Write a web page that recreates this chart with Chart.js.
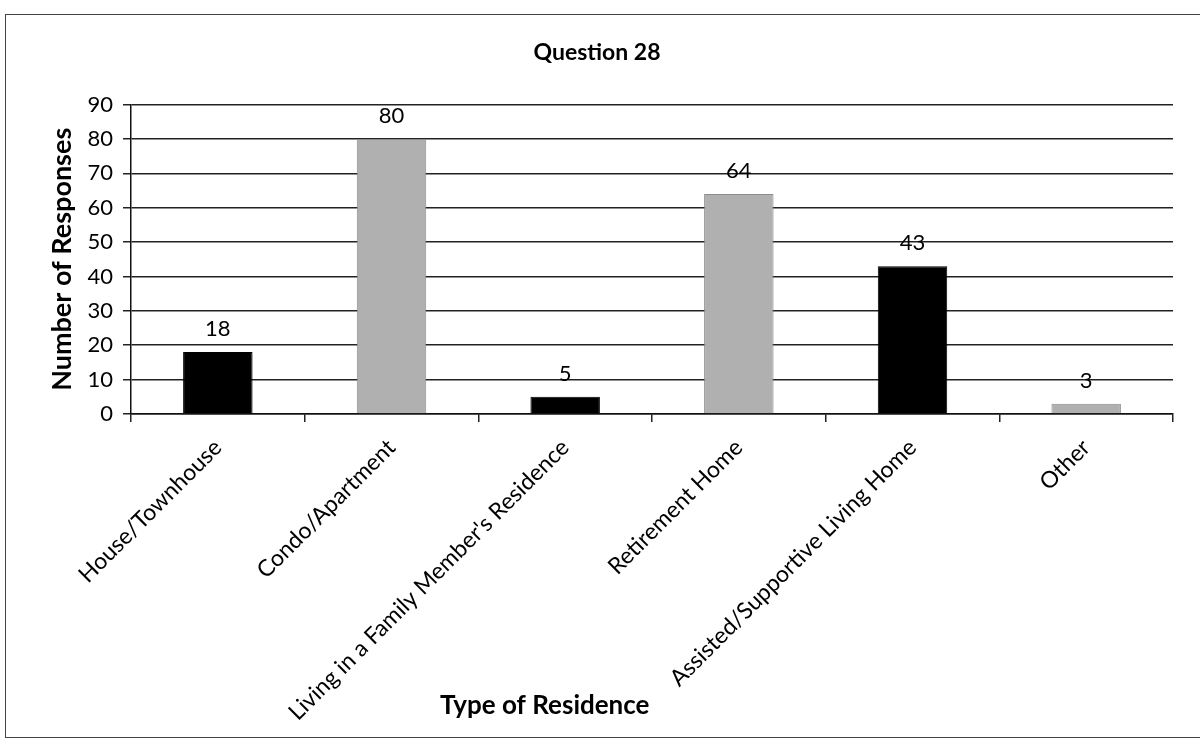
<!DOCTYPE html>
<html>
<head>
<meta charset="utf-8">
<script src="https://cdn.jsdelivr.net/npm/chart.js@4.4.1/dist/chart.umd.min.js"></script>
<style>
  html, body { margin: 0; padding: 0; background: #fff; overflow: hidden; }
  #wrap { position: relative; width: 1200px; height: 746px; }
  #frame { position: absolute; left: 5px; top: 14px; width: 1210px; height: 724px; border: 1.5px solid #444; box-sizing: border-box; }
  canvas { position: absolute; left: 0; top: 0; }
</style>
</head>
<body>
<div id="wrap">
  <div id="frame"></div>
  <canvas id="chart" width="1200" height="746"></canvas>
</div>
<script>
/* ---------- data ---------- */
const residenceTypes = [
  "House/Townhouse",
  "Condo/Apartment",
  "Living in a Family Member's Residence",
  "Retirement Home",
  "Assisted/Supportive Living Home",
  "Other"
];
const responseCounts = [18, 80, 5, 64, 43, 3];
const barColors = ["#000000", "#b0b0b0", "#000000", "#b0b0b0", "#000000", "#b0b0b0"];
const yTicks = [0, 10, 20, 30, 40, 50, 60, 70, 80, 90];

const FONT = "Lato, 'Liberation Sans', sans-serif";

/* value labels over each bar */
const valueLabels = {
  id: "valueLabels",
  afterDatasetsDraw(chart) {
    const ctx = chart.ctx;
    const meta = chart.getDatasetMeta(0);
    ctx.save();
    ctx.font = "22px " + FONT;
    ctx.fillStyle = "#000";
    ctx.textAlign = "center";
    ctx.textBaseline = "bottom";
    meta.data.forEach((bar, i) => {
      ctx.fillText(String(responseCounts[i]), bar.x, bar.y - 12);
    });
    ctx.restore();
  }
};

/* x axis title sits left of centre in the original */
const xAxisTitle = {
  id: "xAxisTitle",
  afterDraw(chart) {
    const ctx = chart.ctx;
    const area = chart.chartArea;
    ctx.save();
    ctx.font = "bold 26px " + FONT;
    ctx.fillStyle = "#000";
    ctx.textAlign = "center";
    ctx.textBaseline = "middle";
    ctx.fillText("Type of Residence", area.left + (area.right - area.left) * 0.397, 706);
    ctx.restore();
  }
};

new Chart(document.getElementById("chart"), {
  type: "bar",
  data: {
    labels: residenceTypes,
    datasets: [{
      data: responseCounts,
      backgroundColor: barColors,
      borderColor: barColors.map(c => c === "#000000" ? "#000000" : "#8c8c8c"),
      borderWidth: 1,
      barPercentage: 0.4,
      categoryPercentage: 1.0
    }]
  },
  options: {
    responsive: false,
    animation: false,
    layout: { padding: { top: 0, right: 27, bottom: 0, left: 21 } },
    plugins: {
      legend: { display: false },
      tooltip: { enabled: false },
      title: {
        display: true,
        text: "Question 28",
        color: "#000",
        font: { family: FONT, size: 23, weight: "bold" },
        padding: { top: 39, bottom: 38 }
      }
    },
    scales: {
      x: {
        grid: { display: true, drawOnChartArea: false, drawTicks: true, tickLength: 8, color: "#222", lineWidth: 1.5, offset: true },
        border: { display: true, color: "#111", width: 1.5 },
        ticks: {
          color: "#000",
          font: { family: FONT, size: 23 },
          minRotation: 45,
          maxRotation: 45,
          padding: 12,
          autoSkip: false
        },
        afterFit(scale) { scale.height = 332; }
      },
      y: {
        min: 0,
        max: 90,
        afterBuildTicks(scale) { scale.ticks = yTicks.map(v => ({ value: v })); },
        grid: { color: "#222", lineWidth: 1.5, tickLength: 8 },
        border: { display: true, color: "#111", width: 1.5 },
        ticks: { color: "#000", font: { family: FONT, size: 22 }, padding: 10 },
        title: {
          display: true,
          text: "Number of Responses",
          color: "#000",
          font: { family: FONT, size: 27, weight: "bold" },
          padding: { top: 25, bottom: 0 }
        },
        afterFit(scale) { scale.width = 110; }
      }
    }
  },
  plugins: [valueLabels, xAxisTitle]
});
</script>
</body>
</html>
